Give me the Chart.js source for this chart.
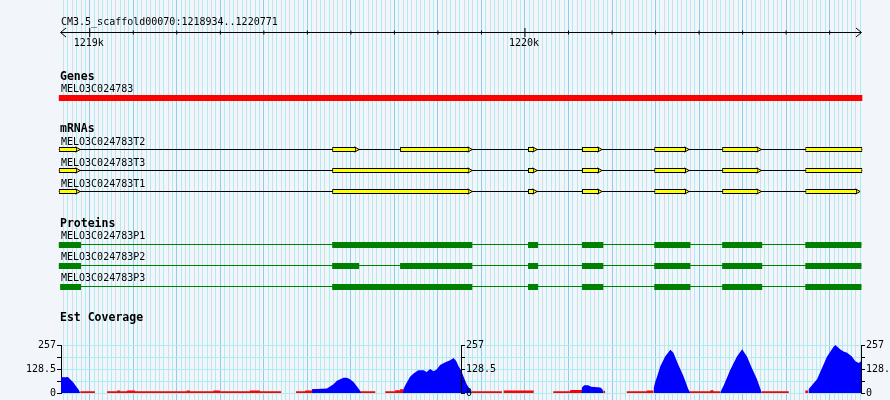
<!DOCTYPE html>
<html>
<head>
<meta charset="utf-8">
<script src="https://cdn.jsdelivr.net/npm/chart.js"></script>
<style>
  html, body { margin: 0; padding: 0; background: #f2f5fa; }
  #wrap { position: relative; width: 890px; height: 400px; overflow: hidden; }
  #wrap canvas { position: absolute; left: 0; top: 0; }
</style>
</head>
<body>
<div id="wrap">
  <canvas id="tracks" width="890" height="400"></canvas>
  <canvas id="covRight" width="930" height="400"></canvas>
  <canvas id="covLeft" width="890" height="400"></canvas>
</div>
<script>
// view
const REGION = "CM3.5_scaffold00070:1218934..1220771";
const VIEW_START = 1218934;
const VIEW_END = 1220772;
const VIEW_MID = 1219853;

// ruler
const RULER_TICKS = [1219000, 1219100, 1219200, 1219300, 1219400, 1219500, 1219600, 1219700, 1219800,
  1219900, 1220000, 1220100, 1220200, 1220300, 1220400, 1220500, 1220600, 1220700];
const RULER_LABELS = [1219000, 1220000];

// genes
const GENE_NAME = "MELO3C024783";
const GENE_SPAN = [1218929, 1220775];

// mRNAs (exons)
const MRNA_NAMES = ["MELO3C024783T2", "MELO3C024783T3", "MELO3C024783T1"];
const MRNA_T2 = [[1218929, 1218971], [1219557, 1219612], [1219713, 1219872], [1220007, 1220021],
  [1220131, 1220170], [1220297, 1220370], [1220453, 1220536], [1220644, 1220775]];
const MRNA_T3 = [[1218929, 1218971], [1219557, 1219872], [1220007, 1220021],
  [1220131, 1220170], [1220297, 1220370], [1220453, 1220536], [1220644, 1220775]];
const MRNA_T1 = [[1218929, 1218971], [1219557, 1219872], [1220007, 1220021],
  [1220131, 1220170], [1220297, 1220370], [1220453, 1220536], [1220644, 1220763]];

// proteins (CDS parts)
const PROTEIN_NAMES = ["MELO3C024783P1", "MELO3C024783P2", "MELO3C024783P3"];
const PROTEIN_P1 = [[1218929, 1218980], [1219557, 1219879], [1220007, 1220030], [1220131, 1220180],
  [1220297, 1220380], [1220453, 1220545], [1220644, 1220773]];
const PROTEIN_P2 = [[1218929, 1218980], [1219557, 1219619], [1219713, 1219879], [1220007, 1220030],
  [1220131, 1220180], [1220297, 1220380], [1220453, 1220545], [1220644, 1220773]];
const PROTEIN_P3 = [[1218932, 1218980], [1219557, 1219879], [1220007, 1220030], [1220131, 1220180],
  [1220297, 1220380], [1220453, 1220545], [1220644, 1220773]];

// est coverage
const EST_MAX = 257;
const EST_STEP = 64.25;
const EST_LABELS = [0, 128.5, 257];
const EST_BLUE = [
  [1218934, 84], [1218943, 84], [1218950, 86], [1218955, 73], [1218962, 58], [1218968, 37], [1218975, 16], [1218978, 0],
  [1219511, 0], [1219511, 20], [1219545, 24], [1219560, 47], [1219568, 65], [1219583, 82], [1219591, 82],
  [1219598, 73], [1219606, 59], [1219614, 35], [1219621, 12], [1219623, 0],
  [1219719, 0], [1219721, 22], [1219725, 42], [1219736, 87], [1219744, 105], [1219755, 122], [1219767, 122],
  [1219774, 112], [1219782, 129], [1219790, 117], [1219797, 126], [1219805, 150], [1219817, 164], [1219828, 176],
  [1219836, 187], [1219842, 172], [1219847, 145], [1219853, 122], [1219859, 87], [1219866, 47], [1219874, 17], [1219878, 0],
  [1220130, 0], [1220131, 30], [1220136, 42], [1220145, 41], [1220152, 33], [1220173, 30], [1220178, 20], [1220180, 0],
  [1220295, 0], [1220296, 30], [1220299, 58], [1220303, 84], [1220311, 143], [1220322, 196], [1220334, 231],
  [1220341, 215], [1220352, 152], [1220364, 91], [1220375, 21], [1220380, 0],
  [1220449, 0], [1220451, 15], [1220456, 38], [1220472, 126], [1220487, 196], [1220499, 234], [1220510, 196],
  [1220521, 135], [1220533, 73], [1220541, 21], [1220544, 0],
  [1220651, 0], [1220652, 21], [1220671, 73], [1220686, 152], [1220694, 196], [1220709, 248], [1220713, 257],
  [1220724, 234], [1220732, 222], [1220740, 215], [1220751, 196], [1220759, 170], [1220767, 161], [1220772, 170]
];
// [start, end, value]
const EST_RED = [
  [1218978, 1219012, 10],
  [1219040, 1219063, 10], [1219063, 1219070, 14], [1219070, 1219086, 10], [1219086, 1219104, 14],
  [1219104, 1219223, 10], [1219223, 1219230, 14], [1219230, 1219284, 10], [1219284, 1219299, 14],
  [1219299, 1219368, 10], [1219368, 1219391, 13], [1219391, 1219440, 10],
  [1219474, 1219495, 10], [1219495, 1219511, 14], [1219511, 1219541, 22],
  [1219621, 1219656, 10],
  [1219679, 1219702, 10], [1219702, 1219713, 15], [1219713, 1219721, 20],
  [1219878, 1219947, 10],
  [1219951, 1220020, 14],
  [1220065, 1220104, 10], [1220104, 1220131, 16],
  [1220180, 1220184, 12],
  [1220234, 1220280, 10], [1220280, 1220295, 14],
  [1220378, 1220426, 10], [1220426, 1220433, 15], [1220433, 1220449, 10],
  [1220544, 1220606, 10],
  [1220644, 1220651, 14]
];

// layout (pixel rows on the track chart)
const ROW = {
  ruler: 32.5,
  gene: 98,
  mrna: [149.5, 170.5, 191.5],
  protein: [245, 266, 287],
  proteinLine: [244.5, 265.5, 286.5]
};

const MONO = "DejaVu Sans Mono";
Chart.defaults.font.family = MONO;
Chart.defaults.font.size = 10;
Chart.defaults.color = "#000";

// ---------- tracks ----------
const trackDatasets = [];

trackDatasets.push({
  type: "line",
  data: [{ x: VIEW_START, y: ROW.ruler }, { x: VIEW_END, y: ROW.ruler }],
  borderColor: "#000", borderWidth: 1, pointRadius: 0, order: 3
});
trackDatasets.push({
  type: "scatter",
  data: RULER_TICKS.map(v => ({ x: v, y: ROW.ruler })),
  pointStyle: "line", pointRotation: 90,
  pointRadius: c => (c.raw && RULER_LABELS.includes(c.raw.x)) ? 4.5 : 2,
  pointBorderColor: "#000", pointBorderWidth: 1, order: 3
});

trackDatasets.push({
  type: "bar", indexAxis: "y", grouped: false, clip: false,
  data: [{ x: GENE_SPAN, y: ROW.gene }],
  backgroundColor: "#ff0000", borderWidth: 0, maxBarThickness: 6, inflateAmount: 0, order: 0
});

[MRNA_T2, MRNA_T3, MRNA_T1].forEach((exons, i) => {
  const y = ROW.mrna[i];
  trackDatasets.push({
    type: "bar", indexAxis: "y", grouped: false, clip: false,
    data: exons.map(e => ({ x: e, y })),
    backgroundColor: "#ffff00", borderColor: "#000", borderWidth: 1, borderSkipped: false,
    maxBarThickness: 5, inflateAmount: 0, order: 0
  });
  trackDatasets.push({
    type: "scatter", clip: false,
    data: exons.filter(e => e[1] < VIEW_END).map(e => ({ x: e[1], y })),
    pointStyle: "triangle", pointRotation: 90, pointRadius: 3,
    pointBackgroundColor: "#ffff00", pointBorderColor: "#000", pointBorderWidth: 1, order: 1
  });
  trackDatasets.push({
    type: "line", clip: false,
    data: [{ x: exons[0][0], y }, { x: exons[exons.length - 1][1], y }],
    borderColor: "#000", borderWidth: 1, pointRadius: 0, order: 2
  });
});

[PROTEIN_P1, PROTEIN_P2, PROTEIN_P3].forEach((parts, i) => {
  const y = ROW.protein[i];
  const ly = ROW.proteinLine[i];
  trackDatasets.push({
    type: "bar", indexAxis: "y", grouped: false, clip: false,
    data: parts.map(p => ({ x: p, y })),
    backgroundColor: "#008000", borderWidth: 0, maxBarThickness: 6, inflateAmount: 0, order: 0
  });
  trackDatasets.push({
    type: "line", clip: false,
    data: [{ x: parts[0][0], y: ly }, { x: parts[parts.length - 1][1], y: ly }],
    borderColor: "#008000", borderWidth: 1, pointRadius: 0, order: 2
  });
});

const trackText = {
  id: "trackText",
  afterDraw(chart) {
    const ctx = chart.ctx;
    const xs = chart.scales.x;
    ctx.save();
    ctx.fillStyle = "#000";
    ctx.strokeStyle = "#000";
    ctx.textBaseline = "alphabetic";
    ctx.textAlign = "left";

    ctx.font = `10px "${MONO}"`;
    ctx.fillText(REGION, 61, 25);

    // ruler arrow heads
    const l = xs.getPixelForValue(VIEW_START);
    const r = xs.getPixelForValue(VIEW_END);
    ctx.lineWidth = 1;
    ctx.beginPath();
    ctx.moveTo(l + 5, ROW.ruler - 4.5); ctx.lineTo(l - 0.5, ROW.ruler); ctx.lineTo(l + 5, ROW.ruler + 4.5);
    ctx.moveTo(r - 5, ROW.ruler - 4.5); ctx.lineTo(r + 0.5, ROW.ruler); ctx.lineTo(r - 5, ROW.ruler + 4.5);
    ctx.stroke();

    ctx.textAlign = "center";
    RULER_LABELS.forEach(v => {
      ctx.fillText((v / 1000) + "k", xs.getPixelForValue(v) - 1, 46);
    });

    ctx.textAlign = "left";
    ctx.font = `bold 11.5px "${MONO}"`;
    ctx.fillText("Genes", 60, 80);
    ctx.fillText("mRNAs", 60, 132);
    ctx.fillText("Proteins", 60, 227);
    ctx.fillText("Est Coverage", 60, 321);

    ctx.font = `10px "${MONO}"`;
    ctx.fillText(GENE_NAME, 61, ROW.gene - 6);
    MRNA_NAMES.forEach((n, i) => ctx.fillText(n, 61, ROW.mrna[i] - 5));
    PROTEIN_NAMES.forEach((n, i) => ctx.fillText(n, 61, ROW.protein[i] - 5.7));
    ctx.restore();
  }
};

new Chart(document.getElementById("tracks"), {
  type: "bar",
  data: { datasets: trackDatasets },
  options: {
    responsive: false,
    animation: false,
    events: [],
    layout: { autoPadding: false, padding: { left: 61, right: 29, top: 0, bottom: 0 } },
    plugins: { legend: { display: false }, tooltip: { enabled: false } },
    scales: {
      x: {
        type: "linear", min: VIEW_START, max: VIEW_END, offset: false,
        ticks: { display: false, stepSize: 10, includeBounds: false, autoSkip: false },
        grid: {
          drawTicks: false, offset: false,
          color: c => {
            const v = c.tick ? c.tick.value : 0;
            if (v % 100 === 0) return "#94caee";
            return (v / 10) % 2 ? "#a8eef3" : "#cde0ea";
          }
        },
        border: { display: false }
      },
      y: {
        type: "linear", min: 0, max: 400, reverse: true, display: false,
        offset: false, grid: { offset: false }
      }
    }
  },
  plugins: [trackText]
});

// ---------- est coverage ----------
function redPoints() {
  const pts = [];
  EST_RED.forEach(([s, e, v]) => {
    pts.push({ x: s, y: 0 }, { x: s, y: v }, { x: e, y: v }, { x: e, y: 0 });
  });
  return pts;
}

function coverageDatasets() {
  return [
    {
      type: "line", data: EST_BLUE.map(([x, y]) => ({ x, y })), fill: "origin",
      backgroundColor: "#0000ff", borderColor: "rgba(0,0,0,0)", borderWidth: 0,
      pointRadius: 0, tension: 0, order: 0
    },
    {
      type: "line", data: redPoints(), fill: "origin",
      backgroundColor: "#ff0000", borderColor: "rgba(0,0,0,0)", borderWidth: 0,
      pointRadius: 0, tension: 0, order: 1
    }
  ];
}

function estAxis(position, drawGrid, width) {
  return {
    type: "linear", position, min: 0, max: EST_MAX,
    afterFit: s => { s.width = width; },
    grid: { color: "#a8eef3", drawOnChartArea: drawGrid, drawTicks: true, tickLength: 4, tickColor: "#000" },
    border: { display: true, color: "#000", width: 1 },
    ticks: {
      stepSize: EST_STEP, padding: 1, color: "#000", autoSkip: false,
      font: { family: MONO, size: 10 },
      callback: v => EST_LABELS.includes(v) ? String(v) : ""
    }
  };
}

function coverageChart(id, xMin, xMax, padding, yScales) {
  return new Chart(document.getElementById(id), {
    type: "line",
    data: { datasets: coverageDatasets() },
    options: {
      responsive: false,
      animation: false,
      events: [],
      layout: { autoPadding: false, padding },
      plugins: { legend: { display: false }, tooltip: { enabled: false } },
      scales: Object.assign({
        x: { type: "linear", min: xMin, max: xMax, display: false }
      }, yScales)
    }
  });
}

// right half: canvas is wider than the page so the right labels run off the edge
coverageChart("covRight", VIEW_MID, VIEW_END,
  { left: 461, right: 0, top: 345, bottom: 6 },
  { y: estAxis("right", true, 69) });

coverageChart("covLeft", VIEW_START, VIEW_MID,
  { left: 0, right: 389, top: 345, bottom: 6 },
  { y: estAxis("left", true, 61), yR: estAxis("right", false, 40) });
</script>
</body>
</html>
